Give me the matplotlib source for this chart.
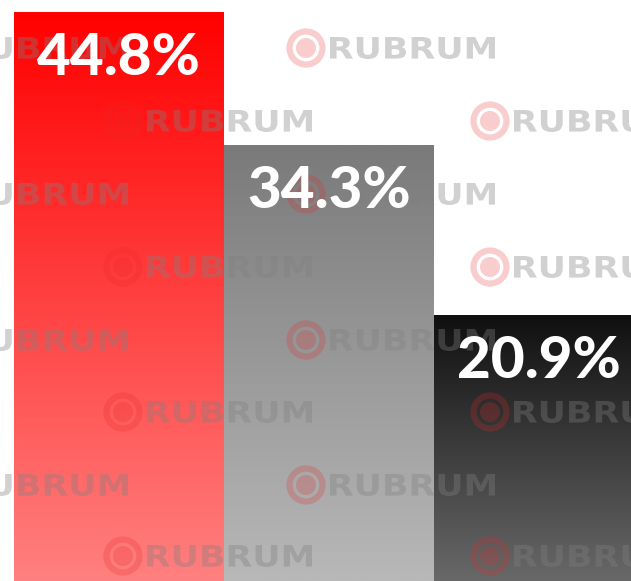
import numpy as np
import matplotlib
matplotlib.use("Agg")
import matplotlib.pyplot as plt
from matplotlib.patches import Circle, PathPatch
from matplotlib.textpath import TextPath
from matplotlib.font_manager import FontProperties
from matplotlib.transforms import Affine2D

# ---- data ----
categories = ["A", "B", "C"]
values = [44.8, 34.3, 20.9]
labels = ["44.8%", "34.3%", "20.9%"]
top_colors = ["#ff0000", "#7a7a7a", "#101010"]
bottom_colors = ["#ff8080", "#b8b8b8", "#686868"]

W, H, DPI = 631, 581, 100
fig = plt.figure(figsize=(W / DPI, H / DPI), dpi=DPI)
ax = fig.add_axes([0, 0, 1, 1])
ax.set_axis_off()

bar_w = 1.0
XLIM = (-0.567, 2.438)
YLIM = (0, 45.75)

def hex2rgb(h):
    return np.array(matplotlib.colors.to_rgb(h))

for i, (v, tc, bc) in enumerate(zip(values, top_colors, bottom_colors)):
    t = np.linspace(0, 1, 256)[:, None]
    grad = (1 - t) * hex2rgb(tc) + t * hex2rgb(bc)
    img = grad[:, None, :]
    ax.imshow(img, extent=[i - bar_w / 2, i + bar_w / 2, 0, v], origin="upper",
              aspect="auto", interpolation="bilinear", zorder=1)

ax.set_xlim(*XLIM)
ax.set_ylim(*YLIM)

# ---- watermark overlay (pixel coordinates) ----
ov = fig.add_axes([0, 0, 1, 1], zorder=5)
ov.set_xlim(0, W)
ov.set_ylim(H, 0)
ov.set_axis_off()
ov.patch.set_alpha(0)

fp = FontProperties(family="DejaVu Sans", weight="bold")
tp = TextPath((0, 0), "RUBRUM", size=30, prop=fp)
bb = tp.get_extents()
sx = 165 / bb.width
sy = 22 / bb.height

row_y = [48, 121, 194, 267, 340, 412, 485, 556]
logo_col = (0.9, 0.16, 0.16)
text_col = (0.5, 0.5, 0.5)
for r, y in enumerate(row_y):
    xs = [306 - 367, 306, 306 + 367] if r % 2 == 0 else [123 - 367, 123, 490]
    for x in xs:
        ov.add_patch(Circle((x, y), 16.5, fill=False, lw=4.5, ec=logo_col, alpha=0.23))
        ov.add_patch(Circle((x, y), 10, fc=logo_col, ec="none", alpha=0.23))
        tr = Affine2D().translate(-bb.x0, -bb.y0).scale(sx, -sy).translate(x + 24, y + 11)
        path = tr.transform_path(tp)
        ov.add_patch(PathPatch(path, fc=text_col, ec="none", alpha=0.36))

# ---- labels (above watermark) ----
lab_ax = fig.add_axes([0, 0, 1, 1], zorder=10)
lab_ax.set_xlim(*XLIM)
lab_ax.set_ylim(*YLIM)
lab_ax.set_axis_off()
lab_ax.patch.set_alpha(0)
for i, (v, lab) in enumerate(zip(values, labels)):
    lab_ax.annotate(lab, xy=(i, v), xytext=(0, -46), textcoords="offset pixels",
                    ha="center", va="center", color="white", fontsize=42,
                    fontweight="black", family="Lato")

fig.savefig("out.png", dpi=DPI)
